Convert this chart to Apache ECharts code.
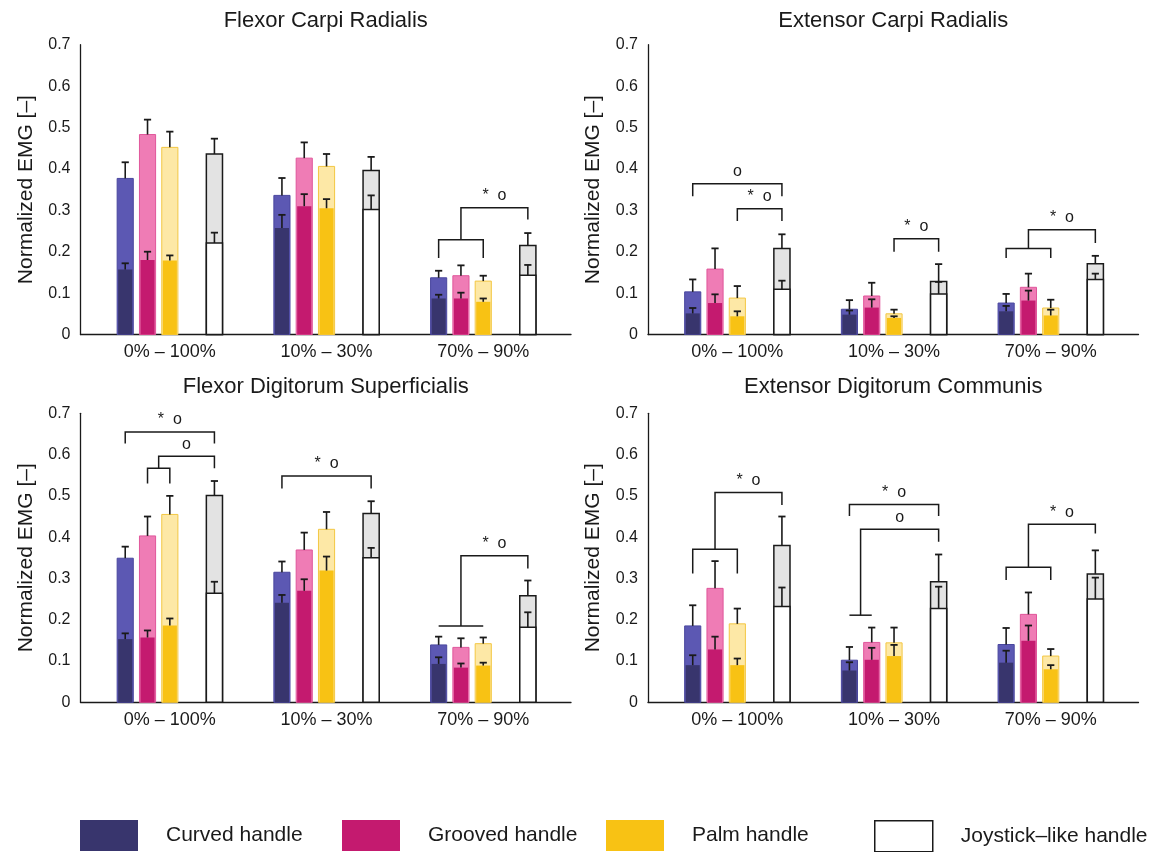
<!DOCTYPE html>
<html>
<head>
<meta charset="utf-8">
<script src="https://cdn.jsdelivr.net/npm/echarts@6/dist/echarts.min.js"></script>
<style>
  html, body { margin: 0; padding: 0; background: #ffffff; }
  #chart { width: 1164px; height: 852px; }
</style>
</head>
<body>
<div id="chart"></div>
<script>
// ---- labels ----
const MUSCLES = ['Flexor Carpi Radialis', 'Extensor Carpi Radialis',
                 'Flexor Digitorum Superficialis', 'Extensor Digitorum Communis'];
const CATEGORIES = ['0% – 100%', '10% – 30%', '70% – 90%'];
const HANDLES = ['Curved handle', 'Grooved handle', 'Palm handle', 'Joystick–like handle'];
const Y_AXIS_NAME = 'Normalized EMG [–]';

// ---- values: rows = handle (curved, grooved, palm, joystick), columns = category ----
// MEAN / SD: full bar and its error; LOW / LOW_SD: inner (darker) bar and its error
const FCR_MEAN   = [[0.377, 0.336, 0.137], [0.483, 0.426, 0.142], [0.452, 0.406, 0.129], [0.436, 0.396, 0.215]];
const FCR_SD     = [[0.039, 0.042, 0.017], [0.036, 0.038, 0.025], [0.038, 0.030, 0.013], [0.037, 0.033, 0.030]];
const FCR_LOW    = [[0.157, 0.257, 0.087], [0.180, 0.310, 0.087], [0.179, 0.305, 0.079], [0.221, 0.302, 0.143]];
const FCR_LOW_SD = [[0.015, 0.032, 0.009], [0.020, 0.029, 0.014], [0.012, 0.022, 0.008], [0.025, 0.034, 0.025]];

const ECR_MEAN   = [[0.103, 0.061, 0.076], [0.158, 0.093, 0.114], [0.088, 0.050, 0.064], [0.208, 0.128, 0.171]];
const ECR_SD     = [[0.030, 0.022, 0.022], [0.050, 0.032, 0.033], [0.029, 0.010, 0.020], [0.034, 0.042, 0.019]];
const ECR_LOW    = [[0.051, 0.048, 0.056], [0.076, 0.065, 0.082], [0.044, 0.040, 0.046], [0.109, 0.098, 0.133]];
const ECR_LOW_SD = [[0.013, 0.010, 0.013], [0.021, 0.020, 0.024], [0.012, 0.004, 0.014], [0.021, 0.029, 0.014]];

const FDS_MEAN   = [[0.349, 0.315, 0.139], [0.403, 0.369, 0.133], [0.455, 0.419, 0.142], [0.501, 0.457, 0.258]];
const FDS_SD     = [[0.028, 0.026, 0.020], [0.047, 0.042, 0.022], [0.045, 0.042, 0.015], [0.035, 0.030, 0.037]];
const FDS_LOW    = [[0.153, 0.241, 0.093], [0.157, 0.270, 0.084], [0.186, 0.319, 0.089], [0.264, 0.350, 0.182]];
const FDS_LOW_SD = [[0.014, 0.019, 0.016], [0.017, 0.028, 0.010], [0.017, 0.034, 0.007], [0.028, 0.024, 0.036]];

const EDC_MEAN   = [[0.185, 0.102, 0.140], [0.276, 0.145, 0.213], [0.190, 0.144, 0.112], [0.380, 0.292, 0.311]];
const EDC_SD     = [[0.050, 0.032, 0.040], [0.066, 0.036, 0.053], [0.037, 0.037, 0.017], [0.070, 0.066, 0.057]];
const EDC_LOW    = [[0.090, 0.077, 0.096], [0.128, 0.103, 0.149], [0.090, 0.112, 0.080], [0.232, 0.227, 0.250]];
const EDC_LOW_SD = [[0.024, 0.020, 0.029], [0.031, 0.029, 0.037], [0.016, 0.027, 0.010], [0.046, 0.053, 0.052]];

// ---- significance brackets (value-axis heights) ----
// simple: from handle -> to handle;  nested: span of handles joined, then linked to handle "to"
const FCR_BRACKETS = [
  { g: 2, span: [0, 2], y: 0.229, leg: 0.185, to: 3, top: 0.306, legR: 0.278, label: '*  o' }
];
const ECR_BRACKETS = [
  { g: 0, from: 0, to: 3, y: 0.364, leg: 0.334, label: 'o' },
  { g: 0, from: 2, to: 3, y: 0.304, leg: 0.274, label: '*  o' },
  { g: 1, from: 2, to: 3, y: 0.231, leg: 0.200, label: '*  o' },
  { g: 2, span: [0, 2], y: 0.208, leg: 0.185, to: 3, top: 0.253, legR: 0.221, label: '*  o' }
];
const FDS_BRACKETS = [
  { g: 0, from: 0, to: 3, y: 0.655, leg: 0.627, label: '*  o' },
  { g: 0, span: [1, 2], y: 0.567, leg: 0.530, to: 3, top: 0.596, legR: 0.567, label: 'o' },
  { g: 1, from: 0, to: 3, y: 0.548, leg: 0.518, label: '*  o' },
  { g: 2, span: [0, 2], y: 0.185, leg: null, to: 3, top: 0.355, legR: 0.324, label: '*  o' }
];
const EDC_BRACKETS = [
  { g: 0, span: [0, 2], y: 0.371, leg: 0.312, to: 3, top: 0.508, legR: 0.478, label: '*  o' },
  { g: 1, from: 0, to: 3, y: 0.479, leg: 0.451, label: '*  o' },
  { g: 1, span: [0, 1], y: 0.211, leg: null, to: 3, top: 0.419, legR: 0.389, label: 'o' },
  { g: 2, span: [0, 2], y: 0.327, leg: 0.296, to: 3, top: 0.431, legR: 0.409, label: '*  o' }
];

const PANELS = [
  { mean: FCR_MEAN, sd: FCR_SD, low: FCR_LOW, lowSd: FCR_LOW_SD, brackets: FCR_BRACKETS },
  { mean: ECR_MEAN, sd: ECR_SD, low: ECR_LOW, lowSd: ECR_LOW_SD, brackets: ECR_BRACKETS },
  { mean: FDS_MEAN, sd: FDS_SD, low: FDS_LOW, lowSd: FDS_LOW_SD, brackets: FDS_BRACKETS },
  { mean: EDC_MEAN, sd: EDC_SD, low: EDC_LOW, lowSd: EDC_LOW_SD, brackets: EDC_BRACKETS }
];

// ---- styling / layout ----
const FONT = 'Liberation Sans, Arial, Helvetica, sans-serif';
const INK = '#1a1a1a';
const DARK  = ['#38356d', '#c41a6f', '#f8c214', '#ffffff'];
const LIGHT = ['#5c58b3', '#ef7cb5', '#fde8a6', '#e3e3e3'];
const EDGE  = ['#4a479f', '#e0569b', '#f3c743', INK];

const SLOT = 0.1423;               // spacing between neighbouring bars (x units)
const BAR_W = 0.103;               // bar width (x units)
const OFFSETS = [-2, -1, 0, 2];    // slot of each handle around the category centre
const X_MIN = 0.43, X_MAX = 3.56;

const GRID_W = 490.5;
const GRIDS = [
  { left: 80.5, top: 44.7, width: GRID_W, height: 289.8 },
  { left: 648,  top: 44.7, width: GRID_W, height: 289.8 },
  { left: 80.5, top: 413.3, width: GRID_W, height: 289 },
  { left: 648,  top: 413.3, width: GRID_W, height: 289 }
];
const TITLE_Y = [20.5, 20.5, 387, 387];
const LEGEND_X = [80, 342, 606, 874];

function xOf(g, h) { return g + 1 + OFFSETS[h] * SLOT; }

function whisker(api, x, v0, v1) {
  const a = api.coord([x, v0]), b = api.coord([x, v1]);
  const cap = 3.6;
  return [
    { type: 'line', shape: { x1: a[0], y1: a[1], x2: b[0], y2: b[1] }, style: { stroke: INK, lineWidth: 1.6 } },
    { type: 'line', shape: { x1: b[0] - cap, y1: b[1], x2: b[0] + cap, y2: b[1] }, style: { stroke: INK, lineWidth: 1.8 } }
  ];
}

function barRenderer(h) {
  return function (params, api) {
    const g = api.value(0) - 1;
    const mean = api.value(1), sd = api.value(2), low = api.value(3), lowSd = api.value(4);
    const xc = xOf(g, h);
    const base = api.coord([xc, 0]);
    const top = api.coord([xc, mean]);
    const lowPt = api.coord([xc, low]);
    const w = api.size([BAR_W, 0])[0];
    const x0 = base[0] - w / 2;
    const children = [];
    const joystick = h === 3;
    children.push({
      type: 'rect',
      shape: { x: x0, y: top[1], width: w, height: base[1] - top[1] },
      style: { fill: LIGHT[h], stroke: EDGE[h], lineWidth: joystick ? 1.5 : 1 }
    });
    if (joystick) {
      children.push({
        type: 'rect',
        shape: { x: x0, y: lowPt[1], width: w, height: base[1] - lowPt[1] },
        style: { fill: DARK[h], stroke: INK, lineWidth: 1.5 }
      });
    } else {
      children.push({
        type: 'rect',
        shape: { x: x0 + 1, y: lowPt[1], width: w - 2, height: base[1] - lowPt[1] },
        style: { fill: DARK[h] }
      });
    }
    children.push(...whisker(api, xc, mean, mean + sd));
    children.push(...whisker(api, xc, low, low + lowSd));
    return { type: 'group', children };
  };
}

function bracketRenderer(list) {
  return function (params, api) {
    const b = list[params.dataIndex];
    const P = (h, v) => api.coord([xOf(b.g, h), v]);
    const line = (pts) => ({ type: 'polyline', shape: { points: pts }, style: { stroke: INK, lineWidth: 1.5, fill: null } });
    const children = [];
    let textX, textY;
    if (b.span) {
      const a = P(b.span[0], b.y), c = P(b.span[1], b.y);
      if (b.leg != null) {
        children.push(line([P(b.span[0], b.leg), a, c, P(b.span[1], b.leg)]));
      } else {
        children.push(line([a, c]));
      }
      const midX = (xOf(b.g, b.span[0]) + xOf(b.g, b.span[1])) / 2;
      const s0 = api.coord([midX, b.y]), s1 = api.coord([midX, b.top]);
      const t1 = P(b.to, b.top), t2 = P(b.to, b.legR);
      children.push(line([s0, s1, t1, t2]));
      textX = (s1[0] + t1[0]) / 2; textY = s1[1];
    } else {
      const p0 = P(b.from, b.leg), p1 = P(b.from, b.y), p2 = P(b.to, b.y), p3 = P(b.to, b.leg);
      children.push(line([p0, p1, p2, p3]));
      textX = (p1[0] + p2[0]) / 2; textY = p1[1];
    }
    children.push({
      type: 'text', x: textX, y: textY - 12,
      style: { text: b.label, fill: INK, fontSize: 16, fontFamily: FONT, align: 'center', verticalAlign: 'middle' }
    });
    return { type: 'group', children };
  };
}

const grid = [], xAxis = [], yAxis = [], series = [];
PANELS.forEach((panel, p) => {
  grid.push(Object.assign({ containLabel: false }, GRIDS[p]));
  xAxis.push({
    type: 'value', gridIndex: p, min: X_MIN, max: X_MAX,
    axisLine: { show: true, onZero: false, lineStyle: { color: INK, width: 1.3 } },
    axisTick: { show: false }, splitLine: { show: false },
    axisLabel: {
      customValues: [1, 2, 3], margin: 9,
      formatter: (v) => CATEGORIES[Math.round(v) - 1] || '',
      fontSize: 18, fontFamily: FONT, color: INK
    }
  });
  yAxis.push({
    type: 'value', gridIndex: p, min: 0, max: 0.7, interval: 0.1,
    name: Y_AXIS_NAME, nameLocation: 'middle', nameGap: 44,
    nameTextStyle: { fontSize: 21, fontFamily: FONT, color: INK },
    axisLine: { show: true, onZero: false, lineStyle: { color: INK, width: 1.3 } },
    axisTick: { show: false }, splitLine: { show: false },
    axisLabel: {
      margin: 10, fontSize: 16, fontFamily: FONT, color: INK,
      formatter: (v) => (v === 0 ? '0' : v.toFixed(1))
    }
  });
  HANDLES.forEach((name, h) => {
    series.push({
      type: 'custom', name, xAxisIndex: p, yAxisIndex: p,
      itemStyle: h === 3 ? { color: '#ffffff', borderColor: INK, borderWidth: 1.5 } : { color: DARK[h] },
      renderItem: barRenderer(h),
      encode: { x: 0, y: 1 },
      data: CATEGORIES.map((c, g) => [g + 1, panel.mean[h][g], panel.sd[h][g], panel.low[h][g], panel.lowSd[h][g]]),
      silent: true
    });
  });
  series.push({
    type: 'custom', name: 'brackets', xAxisIndex: p, yAxisIndex: p,
    renderItem: bracketRenderer(panel.brackets),
    encode: { x: 0, y: 1 },
    data: panel.brackets.map((b) => [b.g + 1, b.y]),
    silent: true
  });
});

const legend = HANDLES.map((name, h) => ({
  data: [{
    name, icon: 'rect',
    itemStyle: h === 3 ? { color: '#ffffff', borderColor: INK, borderWidth: 1.5 } : { color: DARK[h], borderWidth: 0 }
  }],
  left: LEGEND_X[h], top: 820, padding: 0,
  itemWidth: 58, itemHeight: 31, selectedMode: false,
  textStyle: { fontSize: 21, fontFamily: FONT, color: INK, padding: [5, 0, 0, 23] }
}));

const graphic = MUSCLES.map((text, p) => ({
  type: 'text',
  x: GRIDS[p].left + GRIDS[p].width / 2,
  y: TITLE_Y[p],
  style: { text, fontSize: 22, fontFamily: FONT, fill: INK, align: 'center', verticalAlign: 'middle' }
}));

const chart = echarts.init(document.getElementById('chart'), null, { renderer: 'canvas' });
chart.setOption({
  animation: false,
  backgroundColor: '#ffffff',
  grid, xAxis, yAxis, series, legend, graphic,
  tooltip: { show: false }
});
</script>
</body>
</html>
